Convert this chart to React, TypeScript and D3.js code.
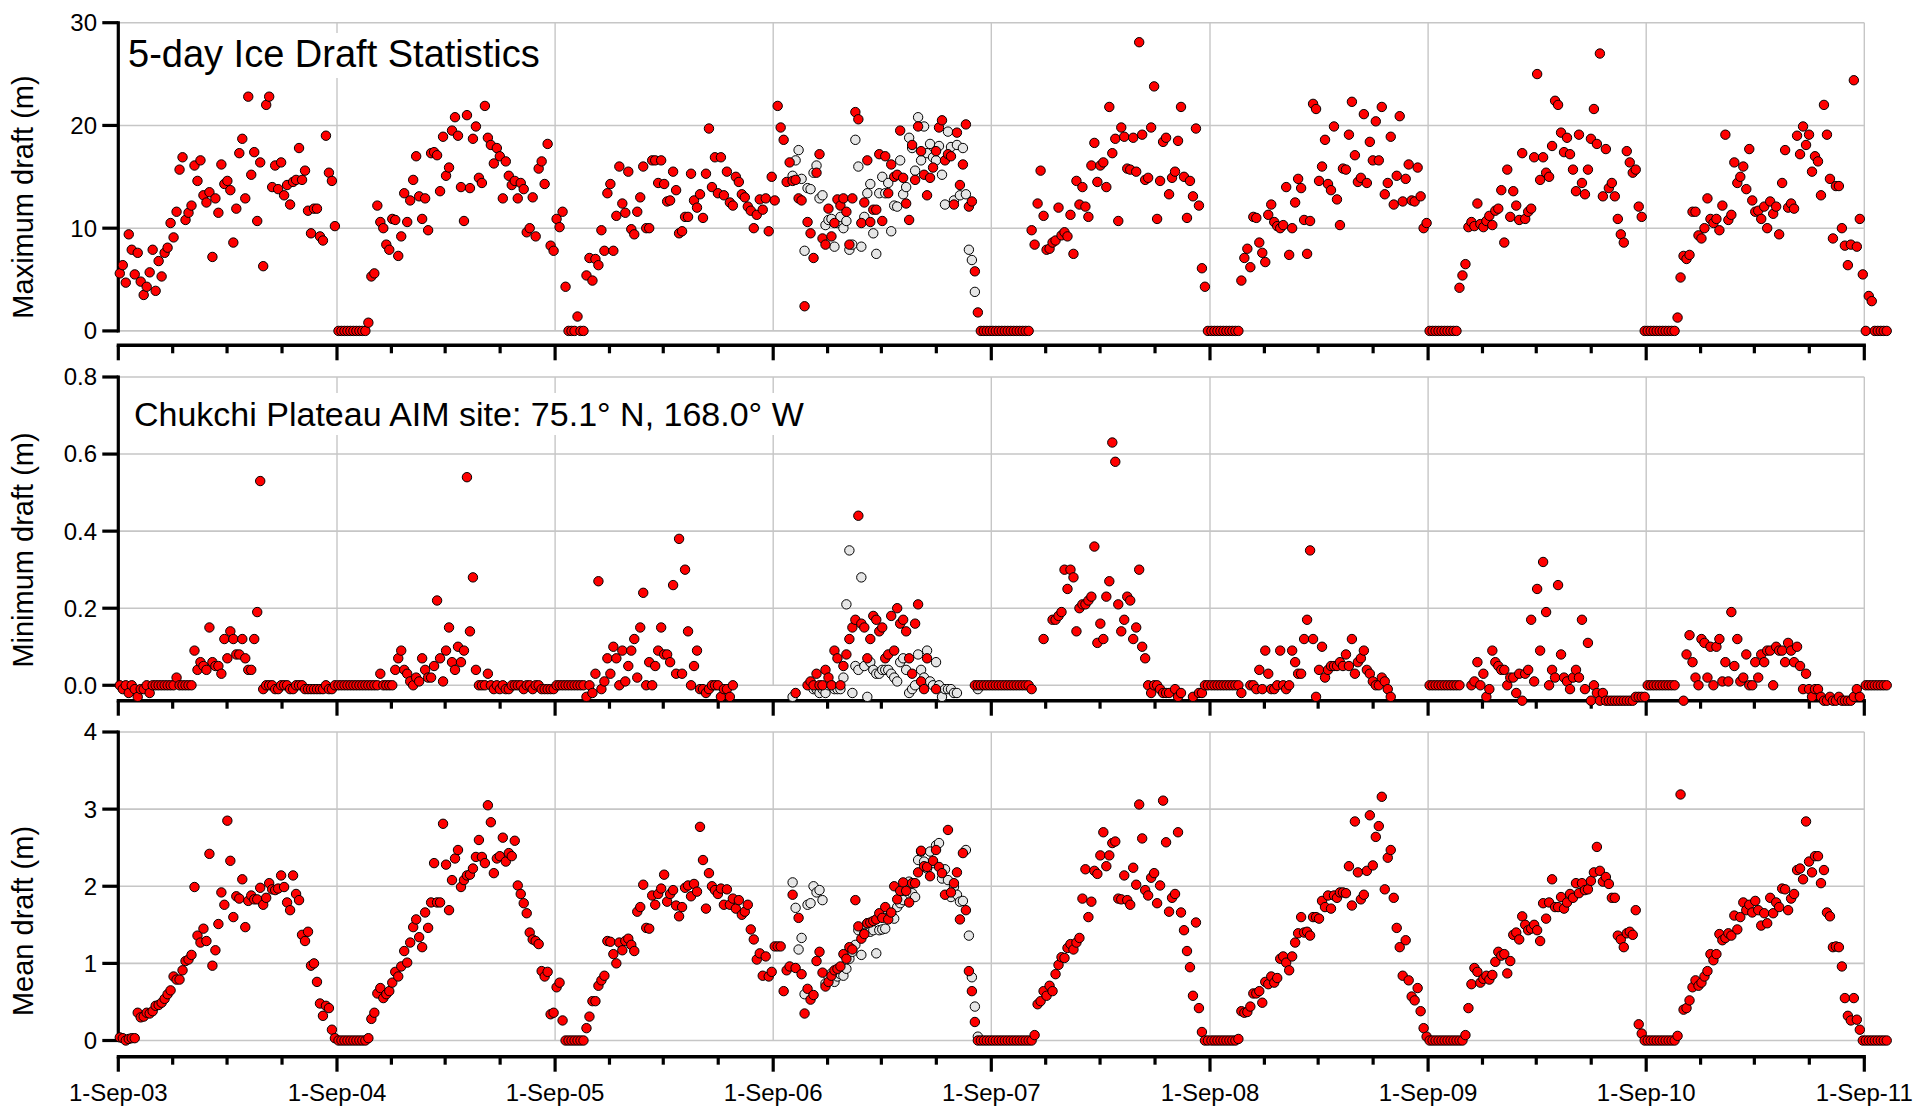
import React from 'react';
import * as d3 from 'd3';

const W = 1917;
const H = 1108;
const xLeft = 118.3;
const xRight = 1864.3;
const FONT = '"Liberation Sans", Arial, Helvetica, sans-serif';
const _ = null;

// season start years (each season runs from 1 Sep, one value per 5-day bin)
const seasons = [2003, 2004, 2005, 2006, 2007, 2008, 2009, 2010, 2011];
const xTickLabels = ['1-Sep-03', '1-Sep-04', '1-Sep-05', '1-Sep-06', '1-Sep-07', '1-Sep-08', '1-Sep-09', '1-Sep-10', '1-Sep-11'];

// ---- maximum draft (m)
const max03 = [5.6,6.4,4.7,9.4,7.9,5.5,7.6,4.8,3.5,4.3,5.7,7.9,3.9,6.8,5.3,7.6,8.1,10.5,9.1,11.6,15.7,16.9,10.8,11.5,12.2,16.1,14.6,16.6,13.2,12.5,13.5,7.2,12.9,11.5,16.2,14.3,14.6,13.7,8.6,11.9,17.3,18.7,12.9,22.8,15.2,17.4,10.7,16.4,6.3,22.0,22.8,14.0,16.1,13.8,16.4,13.2,14.2,12.3,14.5,14.7,17.8,14.7,15.6,11.7,9.5,11.9,11.9,9.2,8.8,19.0,15.4,14.6,10.2];
const max04 = [0,0,0,0,0,0,0,0,0,0,0.8,5.3,5.6,12.2,10.6,10.0,8.4,7.9,10.9,10.8,7.3,9.2,13.4,10.6,12.7,14.7,17.0,13.1,10.9,12.9,9.8,17.3,17.4,17.1,13.6,18.9,15.1,15.9,19.5,20.8,19.0,14.0,10.7,21.0,13.9,18.7,19.9,14.9,14.4,21.9,18.8,18.1,16.3,17.8,17.0,12.9,16.5,15.1,14.2,14.6,12.9,14.4,13.8,9.6,10.0,13.0,9.2,15.8,16.5,14.3,18.2,8.3,7.8];
const max05 = [10.9,10.1,11.6,4.3,0,0,0,1.4,0,0,5.4,7.1,4.9,7.0,6.4,9.8,7.8,13.4,14.3,7.8,11.2,16.0,12.4,11.5,15.5,9.9,9.4,11.6,13.0,16.0,10.0,10.0,16.6,16.6,14.4,16.6,14.3,12.6,12.7,15.5,13.7,9.5,9.7,11.1,11.1,15.3,12.7,12.0,13.3,11.0,15.3,19.7,14.0,16.9,13.4,16.9,13.2,15.5,12.5,12.2,15.0,14.5,13.3,13.0,12.1,11.7,10.0,11.3,12.8,11.8,12.9,9.7,15.0];
const max06 = [12.7,21.9,19.8,18.6,14.5,16.4,14.6,14.7,12.9,12.7,2.4,10.6,9.5,7.1,15.4,17.2,9.0,8.4,11.9,9.2,10.5,12.8,12.2,12.9,11.6,8.4,12.9,21.3,20.6,10.5,12.5,16.6,10.6,11.8,11.8,17.2,10.7,17.0,13.4,16.2,15.0,15.2,19.5,14.9,12.4,10.8,18.1,14.7,19.9,17.5,15.2,13.2,14.9,15.9,17.5,19.8,20.5,16.6,17.2,17.0,12.3,19.3,14.2,16.2,20.1,12.1,12.6,5.8,1.8,0,0,0,0];
const max07 = [0,0,0,0,0,0,0,0,0,0,0,0,0,9.8,8.4,12.4,15.6,11.2,7.9,8.0,8.6,8.8,12.0,9.3,9.6,9.2,11.3,7.5,14.6,12.3,14.0,12.1,11.1,16.1,18.3,14.5,16.1,16.4,14.0,21.8,17.3,18.7,10.7,19.8,18.9,15.8,15.7,18.8,15.5,28.1,19.1,14.7,14.9,19.8,23.8,10.9,14.6,18.4,18.8,13.3,14.9,15.5,18.5,21.8,15.0,11.0,14.6,13.1,19.7,12.2,6.1,4.3,0];
const max08 = [0,0,0,0,0,0,0,0,0,0,4.9,7.1,8.0,6.2,11.1,11.0,8.6,7.6,6.7,11.3,12.3,10.6,10.2,10.0,10.3,14.0,7.4,10.0,12.5,14.8,13.9,10.8,7.5,10.7,22.1,21.6,14.6,16.0,18.6,14.3,13.7,19.9,12.8,10.3,15.8,15.7,19.1,22.3,17.1,14.5,14.9,21.1,14.4,18.4,16.6,20.4,16.6,21.8,13.3,14.4,18.9,12.3,15.1,20.9,12.6,14.8,16.2,12.7,12.6,15.9,13.1,10.0,10.5];
const max09 = [0,0,0,0,0,0,0,0,0,0,4.2,5.4,6.5,10.1,10.6,10.2,12.4,10.4,10.1,10.7,11.2,10.3,11.7,11.9,13.7,8.6,15.7,11.1,13.6,12.2,10.8,17.3,10.9,11.6,11.9,16.9,25.0,14.7,16.9,15.4,15.0,18.0,22.4,22.0,19.3,17.4,18.8,17.2,15.7,13.6,19.1,14.4,13.3,15.7,18.7,21.6,18.2,27.0,13.1,17.7,13.9,14.4,13.1,10.9,9.4,8.6,17.5,16.4,15.4,15.7,12.1,11.1,0];
const max10 = [0,0,0,0,0,0,0,0,0,0,1.3,5.2,7.3,7.0,7.4,11.6,11.6,9.3,9.0,10.0,12.9,10.9,10.5,10.9,9.8,12.2,19.1,10.8,11.3,16.4,14.4,15.0,16.0,13.8,17.7,12.7,11.6,11.7,10.9,12.1,10.0,12.6,11.4,12.1,9.4,14.4,17.6,12.0,12.4,11.9,19.0,17.2,19.9,18.1,19.1,15.5,17.0,16.5,13.2,22.0,19.1,14.8,9.0,14.1,14.1,10.0,8.3,6.4,8.4,24.4,8.2,10.9,5.5];
const max11 = [0,3.4,2.9,0,0,0,0,0];
// second instrument, 2006-07 (open circles)
const max06b = [_,_,_,_,_,_,15.1,16.6,17.6,14.8,7.8,13.9,13.8,15.4,16.1,12.9,13.2,10.3,10.8,10.9,8.2,10.5,11.1,10.0,10.7,7.9,8.4,18.6,16.0,8.2,11.1,13.4,14.3,9.5,7.5,13.4,15.0,13.4,14.4,9.7,12.2,12.1,16.6,13.3,14.0,18.8,17.8,15.6,20.8,16.6,19.9,17.3,18.2,16.9,16.6,18.0,15.2,12.3,19.4,17.9,12.7,18.1,13.2,17.8,13.3,7.9,6.9,3.8];

// ---- minimum draft (m)
const min03 = [0.00,-0.01,0.00,-0.02,0.00,-0.01,-0.03,-0.01,-0.01,0.00,-0.02,0.00,0.00,0.00,0.00,0.00,0.00,0.00,0.00,0.02,0.00,0.00,0.00,0.00,0.00,0.09,0.04,0.06,0.05,0.04,0.15,0.06,0.05,0.05,0.03,0.12,0.07,0.14,0.12,0.08,0.08,0.12,0.07,0.04,0.04,0.12,0.19,0.53,-0.01,0.00,0.00,0.00,-0.01,-0.01,0.00,0.00,0.00,-0.01,-0.01,0.00,0.00,0.00,-0.01,-0.01,-0.01,-0.01,-0.01,-0.01,-0.01,0.00,-0.01,-0.01,0.00];
const min04 = [0,0,0,0,0,0,0,0,0,0,0,0,0,0,0.03,0,0,0,0,0.04,0.07,0.09,0.04,0.03,0.01,0.00,0.02,0.01,0.07,0.04,0.02,0.02,0.05,0.22,0.07,0.01,0.09,0.15,0.06,0.04,0.10,0.06,0.09,0.54,0.14,0.28,0.04,0.00,0.00,0.00,0.03,0.00,-0.01,0.00,-0.01,0.00,-0.01,-0.01,0.00,0.00,0.00,0.00,-0.01,0.00,0.00,-0.01,0.00,0.00,-0.01,-0.01,-0.01,-0.01,-0.01];
const min05 = [0,0,0,0,0,0,0,0,0,0,-0.03,0.00,-0.02,0.03,0.27,-0.01,0.01,0.07,0.03,0.10,0.07,0.00,0.09,0.01,0.05,0.09,0.12,0.02,0.15,0.24,0.00,0.06,0.00,0.05,0.09,0.15,0.08,0.08,0.06,0.26,0.03,0.38,0.03,0.30,0.14,0.00,0.05,0.09,-0.01,-0.01,-0.02,-0.01,0.00,0.00,0.00,-0.03,-0.01,-0.01,-0.03,0.00,_,_,_,_,_,_,_,_,_,_,_,_,_];
const min06 = [_,_,_,_,_,_,_,-0.02,_,_,_,0.00,0.01,0.00,0.03,0.00,0.00,0.04,0.02,0.00,0.09,0.07,0.00,0.05,0.08,0.12,0.15,0.17,0.44,0.16,0.15,0.07,0.12,0.18,0.17,0.14,0.15,0.07,0.08,0.18,0.09,0.20,0.16,0.17,0.14,0.07,0.03,0.16,0.21,0.01,-0.01,0.07,_,_,-0.01,_,_,_,_,_,_,_,_,_,_,_,_,0,0,0,0,0,0];
const min07 = [0,0,0,0,0,0,0,0,0,0,0,0,0,-0.01,_,_,_,0.12,_,_,0.17,0.17,0.18,0.19,0.30,0.25,0.30,0.28,0.14,0.20,0.21,0.21,0.22,0.23,0.36,0.11,0.16,0.12,0.23,0.27,0.63,0.58,0.21,0.14,0.17,0.23,0.22,0.12,0.15,0.30,0.10,0.07,0.00,-0.02,0.00,0.00,-0.01,-0.02,-0.02,-0.02,_,-0.01,-0.03,-0.02,_,_,_,-0.03,_,-0.02,-0.02,0,0];
const min08 = [0,0,0,0,0,0,0,0,0,0,-0.02,_,_,0.00,0.00,-0.01,0.04,-0.01,0.09,0.03,-0.01,-0.01,0.00,0.09,0.00,-0.01,0.00,0.09,0.06,0.03,0.03,0.12,0.17,0.35,0.12,-0.03,0.04,0.10,0.02,0.04,0.05,0.05,0.05,0.06,0.05,0.08,0.05,0.12,0.03,0.06,0.07,0.09,0.04,0.03,0.01,0.00,0.00,0.02,0.01,-0.01,-0.03,_,_,_,_,_,_,_,_,_,_,_,_];
const min09 = [0,0,0,0,0,0,0,0,0,0,0,_,_,_,0.00,0.01,0.06,0.00,0.03,-0.03,-0.01,0.09,0.06,0.05,0.04,0.04,0.00,0.02,0.02,-0.02,0.03,-0.04,0.03,0.04,0.17,0.01,0.25,0.09,0.32,0.19,0.00,0.04,0.02,0.26,0.08,0.02,0.01,-0.01,0.02,0.04,0.02,0.17,-0.01,0.11,-0.04,0.00,-0.02,-0.04,-0.02,-0.04,-0.04,-0.04,-0.04,-0.04,-0.04,-0.04,-0.04,-0.04,-0.04,-0.03,-0.03,-0.03,-0.03];
const min10 = [0,0,0,0,0,0,0,0,0,0,_,_,-0.04,0.08,0.13,0.06,0.02,0.00,0.12,0.11,0.02,0.10,0.00,0.10,0.12,0.01,0.06,0.01,0.19,0.05,0.12,0.01,0.02,0.08,0.00,0.00,0.06,0.02,0.08,0.06,0.09,0.09,0.00,0.10,0.09,0.09,0.06,0.11,0.09,0.06,0.10,0.05,-0.01,0.03,-0.01,-0.03,-0.01,-0.01,-0.03,-0.04,-0.04,-0.03,-0.04,-0.04,-0.03,-0.04,-0.04,-0.04,-0.04,-0.03,-0.01,-0.03,_];
const min11 = [0,0,0,0,0,0,0,0];
const min06b = [_,_,_,_,_,_,-0.03,_,_,_,_,_,_,-0.01,-0.01,-0.02,-0.01,-0.02,0.00,0.00,-0.01,-0.01,-0.01,0.02,0.21,0.35,-0.02,0.05,0.04,0.28,0.05,-0.03,0.06,0.04,0.03,0.03,0.04,0.04,0.04,0.03,0.02,0.01,0.06,0.07,0.04,-0.02,-0.01,0.00,0.08,0.04,0.02,0.09,0.01,0.00,0.06,0.00,-0.03,-0.01,-0.01,-0.01,-0.02,-0.02,_,_,_,_,_,_,-0.01];

// ---- mean draft (m)
const mean03 = [0.04,0.03,0.00,0.02,0.03,0.03,0.36,0.30,0.31,0.36,0.35,0.38,0.45,0.46,0.49,0.54,0.60,0.65,0.83,0.79,0.79,0.91,1.03,1.05,1.11,1.99,1.36,1.27,1.45,1.29,2.42,0.97,1.17,1.51,1.92,1.76,2.85,2.33,1.60,1.87,1.84,2.09,1.47,1.81,1.88,1.83,1.83,1.98,1.76,1.85,2.04,1.96,1.95,1.97,2.14,1.99,1.79,1.69,2.14,1.90,1.82,1.37,1.29,1.41,0.97,1.00,0.76,0.48,0.32,0.45,0.42,0.14,0.03];
const mean04 = [0,0,0,0,0,0,0,0,0,0,0.03,0.28,0.36,0.61,0.68,0.55,0.60,0.64,0.75,0.89,0.83,0.96,1.16,1.01,1.27,1.47,1.57,1.34,1.21,1.66,1.46,1.79,2.30,1.79,1.79,2.81,2.28,1.69,2.08,2.36,2.47,1.99,2.08,2.14,2.15,2.23,2.38,2.60,2.38,2.30,3.05,2.83,2.17,2.36,2.39,2.63,2.32,2.43,2.39,2.59,2.01,1.90,1.78,1.65,1.40,1.31,1.29,1.25,0.90,0.83,0.89,0.34,0.36];
const mean05 = [0.69,0.75,0.26,0,0,0,0,0,0,0,0.16,0.31,0.51,0.51,0.71,0.78,0.84,1.29,1.28,1.12,1.00,1.27,1.17,1.29,1.32,1.24,1.16,1.67,1.73,2.02,1.46,1.45,1.88,1.76,1.90,1.97,2.15,1.80,1.90,1.95,1.75,1.61,1.73,1.98,2.01,1.87,2.03,1.93,2.77,2.34,1.71,2.17,2.00,1.95,1.90,1.97,1.76,1.96,1.76,1.84,1.71,1.82,1.63,1.67,1.76,1.44,1.31,1.05,1.13,0.84,1.09,0.83,0.89];
const mean06 = [1.22,1.22,1.22,0.64,0.91,0.96,1.89,0.94,1.59,0.86,0.35,0.67,0.53,0.59,1.03,1.15,0.88,0.70,0.76,0.84,0.91,0.93,0.96,1.12,1.06,1.21,1.18,1.82,1.48,1.32,1.38,1.52,1.53,1.55,1.57,1.65,1.59,1.73,1.57,1.66,2.00,1.83,1.94,2.05,1.94,1.79,2.04,2.04,2.18,2.46,2.26,2.25,2.13,2.33,2.47,2.25,2.17,1.89,2.73,1.92,2.04,2.18,1.57,2.43,1.69,0.90,0.64,0.24,0,0,0,0,0];
const mean07 = [0,0,0,0,0,0,0,0,0,0,0,0,0,0,0.07,0.47,0.51,0.64,0.58,0.71,0.64,0.86,0.98,1.08,1.07,1.20,1.25,1.18,1.27,1.33,1.84,2.22,1.60,1.80,2.20,2.16,2.40,2.70,2.26,2.40,2.56,2.58,1.84,1.83,2.14,1.82,1.76,2.24,2.02,3.06,2.62,1.95,1.88,2.11,2.17,1.78,2.01,3.11,2.57,1.67,1.85,1.90,2.70,1.66,1.43,1.16,0.95,0.58,1.53,0.42,0.11,0,0];
const mean08 = [0,0,0,0,0,0,0,0,0,0.02,0.38,0.36,0.37,0.44,0.61,0.61,0.64,0.49,0.76,0.73,0.83,0.75,0.81,1.06,1.09,1.01,0.91,1.09,1.27,1.39,1.60,1.40,1.41,1.36,1.60,1.60,1.58,1.81,1.73,1.88,1.71,1.88,1.85,1.92,1.92,1.91,2.26,1.75,2.84,2.18,1.83,1.89,2.20,2.92,2.27,2.64,2.78,3.16,1.96,2.37,2.47,1.85,1.46,1.21,0.84,1.30,0.78,0.57,0.52,0.68,0.38,0.16,0.05];
const mean09 = [0,0,0,0,0,0,0,0,0,0,0,0,0.07,0.42,0.73,0.94,0.89,0.75,0.80,0.84,0.79,0.85,1.02,1.15,1.10,1.12,0.87,1.03,1.37,1.40,1.31,1.61,1.50,1.43,1.45,1.50,1.43,1.29,1.78,1.58,1.79,2.09,1.73,1.73,1.86,1.71,1.79,1.90,1.85,2.04,1.91,2.04,1.95,1.96,2.07,2.18,2.51,2.20,2.06,2.12,2.03,1.85,1.85,1.36,1.31,1.21,1.39,1.41,1.37,1.69,0.21,0.09,0];
const mean10 = [0,0,0,0,0,0,0,0,0,0,0.06,3.19,0.40,0.42,0.52,0.69,0.78,0.71,0.75,0.83,0.90,1.12,1.04,1.12,1.38,1.30,1.33,1.39,1.36,1.62,1.44,1.60,1.79,1.69,1.76,1.66,1.81,1.69,1.49,1.65,1.52,1.85,1.65,1.79,1.73,1.97,1.96,1.69,1.84,1.90,2.21,2.23,2.09,2.84,2.32,2.18,2.39,2.39,2.04,2.21,1.66,1.61,1.21,1.22,1.21,0.96,0.55,0.32,0.26,0.55,0.27,0.14,0];
const mean11 = [0,0,0,0,0,0,0,0];
const mean06b = [_,_,_,_,_,_,2.05,1.72,1.18,1.33,0.60,1.76,1.78,2.00,1.92,1.95,1.82,0.74,0.83,0.87,0.76,0.83,0.86,0.84,0.93,1.06,1.15,1.24,1.43,1.11,1.39,1.52,1.41,1.43,1.13,1.43,1.44,1.45,1.60,1.65,1.58,1.73,1.78,1.82,2.01,2.06,1.91,1.86,2.34,2.45,2.32,2.23,2.45,2.30,2.53,2.56,2.10,2.22,2.08,1.86,1.99,1.89,1.80,1.81,2.47,1.36,0.82,0.44,0.05];

const maxSeasons = [max03, max04, max05, max06, max07, max08, max09, max10, max11];
const minSeasons = [min03, min04, min05, min06, min07, min08, min09, min10, min11];
const meanSeasons = [mean03, mean04, mean05, mean06, mean07, mean08, mean09, mean10, mean11];

const DAY = 864e5;
const x = d3.scaleUtc()
  .domain([Date.UTC(2003, 8, 1), Date.UTC(2011, 8, 1)])
  .range([xLeft, xRight]);

function binPoints(year: number, vals: (number | null)[]) {
  const start = Date.UTC(year, 8, 1);
  const out: { t: number; v: number }[] = [];
  vals.forEach((v, i) => {
    if (v === null) return;
    out.push({ t: start + (i * 5 + 2.5) * DAY, v });
  });
  return out;
}

function seasonPoints(arrs: (number | null)[][]) {
  return arrs.flatMap((a, k) => binPoints(seasons[k], a));
}

// quarterly ticks starting at 1 Sep (Sep, Dec, Mar, Jun)
const quarterTicks = d3.utcMonth.range(new Date(Date.UTC(2003, 8, 1)), new Date(Date.UTC(2011, 8, 2)), 3);
const yearTicks = quarterTicks.filter((d) => d.getUTCMonth() === 8);

type PanelProps = {
  domain: [number, number];
  range: [number, number];
  ticks: number[];
  fmt: (d: number) => string;
  title: string;
  titleY: number;
  red: { t: number; v: number }[];
  gray: { t: number; v: number }[];
  note?: { text: string; x: number; y: number; size: number; box: [number, number, number, number] };
  xLabels?: boolean;
};

function Panel({ domain, range, ticks, fmt, title, titleY, red, gray, note, xLabels }: PanelProps) {
  const y = d3.scaleLinear().domain(domain).range(range);
  const top = y(ticks[ticks.length - 1]);
  const zero = y(0);
  const axisY = range[0];
  return (
    <g>
      {/* grid */}
      {ticks.map((t) => (
        <line key={'h' + t} x1={xLeft} x2={xRight} y1={y(t)} y2={y(t)} stroke="#c6c6c6" strokeWidth={1.6} />
      ))}
      {yearTicks.slice(1).map((d) => (
        <line key={'v' + d.getTime()} x1={x(d)} x2={x(d)} y1={top} y2={zero} stroke="#c6c6c6" strokeWidth={1.4} />
      ))}
      {note && (
        <g>
          <rect x={note.box[0]} y={note.box[1]} width={note.box[2]} height={note.box[3]} fill="#fff" />
          <text x={note.x} y={note.y} fontFamily={FONT} fontSize={note.size} fill="#000">{note.text}</text>
        </g>
      )}
      {/* left axis */}
      <line x1={xLeft} x2={xLeft} y1={top - 1.5} y2={zero + 1.5} stroke="#000" strokeWidth={3.2} />
      {ticks.map((t) => (
        <g key={'yt' + t}>
          <line x1={xLeft - 16} x2={xLeft} y1={y(t)} y2={y(t)} stroke="#000" strokeWidth={3.2} />
          <text x={97} y={y(t)} dy="0.35em" textAnchor="end" fontFamily={FONT} fontSize={24} fill="#000">{fmt(t)}</text>
        </g>
      ))}
      <text
        transform={`translate(23,${titleY}) rotate(-90)`}
        textAnchor="middle"
        dy="0.35em"
        fontFamily={FONT}
        fontSize={29}
        fill="#000"
      >{title}</text>
      {/* bottom axis */}
      <line x1={xLeft - 1.6} x2={xRight + 1.6} y1={axisY} y2={axisY} stroke="#000" strokeWidth={3.6} />
      {quarterTicks.map((d) => {
        const major = d.getUTCMonth() === 8;
        return (
          <line key={'xt' + d.getTime()} x1={x(d)} x2={x(d)} y1={axisY} y2={axisY + (major ? 15 : 8)} stroke="#000" strokeWidth={3.2} />
        );
      })}
      {xLabels && yearTicks.map((d, i) => (
        <text key={'xl' + i} x={x(d)} y={1101} textAnchor="middle" fontFamily={FONT} fontSize={24} fill="#000">{xTickLabels[i]}</text>
      ))}
      {/* points */}
      {gray.map((p, i) => (
        <circle key={'g' + i} cx={x(p.t)} cy={y(p.v)} r={4.7} fill="#e6e6e6" stroke="#000" strokeWidth={1} />
      ))}
      {red.map((p, i) => (
        <circle key={'r' + i} cx={x(p.t)} cy={y(p.v)} r={4.7} fill="#ff0000" stroke="#000" strokeWidth={1} />
      ))}
    </g>
  );
}

export default function App() {
  return (
    <svg width={W} height={H} style={{ position: 'absolute', left: 0, top: 0, background: '#fff' }}>
      <rect width={W} height={H} fill="#fff" />
      <Panel
        domain={[-1.4, 30]}
        range={[345.3, 22.7]}
        ticks={[0, 10, 20, 30]}
        fmt={(d) => String(d)}
        title="Maximum draft (m)"
        titleY={197}
        red={seasonPoints(maxSeasons)}
        gray={binPoints(2006, max06b)}
        note={{ text: '5-day Ice Draft Statistics', x: 128, y: 67, size: 38, box: [121, 33, 430, 45] }}
      />
      <Panel
        domain={[-0.04, 0.8]}
        range={[700.7, 377]}
        ticks={[0, 0.2, 0.4, 0.6, 0.8]}
        fmt={d3.format('.1f')}
        title="Minimum draft (m)"
        titleY={550}
        red={seasonPoints(minSeasons)}
        gray={binPoints(2006, min06b)}
        note={{ text: 'Chukchi Plateau AIM site: 75.1° N, 168.0° W', x: 134, y: 426, size: 34, box: [121, 393, 688, 42] }}
      />
      <Panel
        domain={[-0.21, 4]}
        range={[1056.7, 732]}
        ticks={[0, 1, 2, 3, 4]}
        fmt={(d) => String(d)}
        title="Mean draft (m)"
        titleY={921}
        red={seasonPoints(meanSeasons)}
        gray={binPoints(2006, mean06b)}
        xLabels
      />
    </svg>
  );
}
